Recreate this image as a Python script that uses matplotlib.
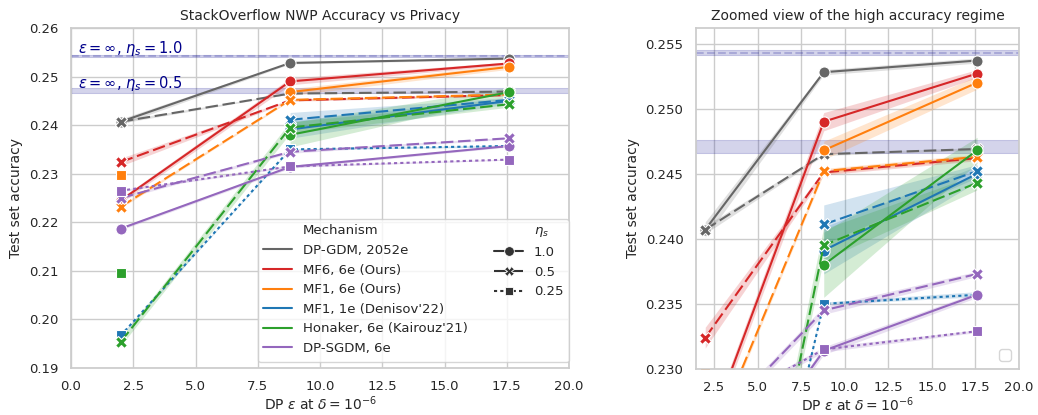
import numpy as np
import matplotlib
matplotlib.use("Agg")
import matplotlib.pyplot as plt
from matplotlib.lines import Line2D
import seaborn as sns

nan = np.nan

# epsilon values (x axis)
eps = [2.0, 8.8, 17.6]
etas = ["1.0", "0.5", "0.25"]

mechanisms = ["DP-GDM, 2052e", "MF6, 6e (Ours)", "MF1, 6e (Ours)",
              "MF1, 1e (Denisov'22)", "Honaker, 6e (Kairouz'21)", "DP-SGDM, 6e"]
colors = ["#666666", "#d62728", "#ff7f0e", "#1f77b4", "#2ca02c", "#9467bd"]

# rows = eta_s 1.0 / 0.5 / 0.25 , columns = eps ; nan = not run
acc_gdm = [[0.2407, 0.2528, 0.2537], [0.2407, 0.2465, 0.2469], [nan, nan, nan]]
acc_mf6 = [[0.2245, 0.2490, 0.2527], [0.2324, 0.2451, 0.2462], [nan, nan, nan]]
acc_mf1 = [[nan, 0.2468, 0.2520], [0.2232, 0.2452, 0.2463], [0.2297, nan, nan]]
acc_den = [[nan, 0.2391, 0.2450], [nan, 0.2411, 0.2452], [0.1967, 0.2350, 0.2357]]
acc_hon = [[nan, 0.2380, 0.2468], [0.1954, 0.2395, 0.2443], [0.2096, nan, nan]]
acc_sgd = [[0.2187, 0.2314, 0.2357], [0.2250, 0.2345, 0.2373], [0.2265, 0.2315, 0.2329]]

# half width of the error band
err_gdm = [[0.0006, 0.0002, 0.0002], [0.0003, 0.0001, 0.0001], [0, 0, 0]]
err_mf6 = [[0.0005, 0.0007, 0.0003], [0.0008, 0.0002, 0.0002], [0, 0, 0]]
err_mf1 = [[0, 0.0007, 0.0005], [0.0003, 0.0002, 0.0002], [0, 0, 0]]
err_den = [[0, 0.0018, 0.0006], [0, 0.0015, 0.0005], [0.0002, 0.0001, 0.0002]]
err_hon = [[0, 0.0025, 0.0010], [0.0008, 0.0012, 0.0006], [0, 0, 0]]
err_sgd = [[0.0003, 0.0003, 0.0002], [0.0003, 0.0003, 0.0002], [0.0002, 0.0002, 0.0001]]

all_acc = [acc_gdm, acc_mf6, acc_mf1, acc_den, acc_hon, acc_sgd]
all_err = [err_gdm, err_mf6, err_mf1, err_den, err_hon, err_sgd]

# non private baselines
inf_acc = [0.2543, 0.2471]
inf_err = [0.0002, 0.0005]
inf_labels = [r"$\varepsilon = \infty$, $\eta_s = 1.0$", r"$\varepsilon = \infty$, $\eta_s = 0.5$"]

markers = ["o", "X", "s"]
dashes = [(None, None), (4, 1.5), (1, 1)]

sns.set_theme(style="whitegrid")
plt.rcParams["font.family"] = ["DejaVu Sans"]

fig = plt.figure(figsize=(10.38, 4.15), dpi=100)
ax1 = fig.add_axes([0.0684, 0.1133, 0.4798, 0.8193])
ax2 = fig.add_axes([0.6705, 0.1110, 0.3112, 0.8216])


def draw(ax, texts):
    # baselines
    for k in range(2):
        ax.axhspan(inf_acc[k] - inf_err[k], inf_acc[k] + inf_err[k],
                   color="darkblue", alpha=0.17, lw=0.8)
        if k == 0:
            ax.axhline(inf_acc[k], color="darkblue", alpha=0.2, lw=1.5, ls="--")
        if texts:
            ax.text(0.3, inf_acc[k] + 0.0005, inf_labels[k], color="darkblue",
                    fontsize=10.5, va="baseline")
    for m in range(len(mechanisms)):
        for s in range(3):
            y = np.array(all_acc[m][s])
            e = np.array(all_err[m][s])
            ok = ~np.isnan(y)
            if ok.sum() == 0:
                continue
            x = np.array(eps)[ok]
            ax.fill_between(x, y[ok] - e[ok], y[ok] + e[ok], color=colors[m],
                            alpha=0.2, lw=0)
            line, = ax.plot(x, y[ok], color=colors[m], lw=1.5, marker=markers[s],
                            ms=8 if s < 2 else 6.5, mec="white", mew=0.8)
            if s > 0:
                line.set_dashes([d * 1.5 for d in dashes[s]])
    ax.set_xlabel(r"DP $\varepsilon$ at $\delta = 10^{-6}$", fontsize=10, labelpad=1)
    ax.set_ylabel("Test set accuracy", fontsize=10)
    ax.tick_params(labelsize=9.5, pad=3)


draw(ax1, True)
ax1.set_xlim(0, 20)
ax1.set_ylim(0.19, 0.26)
ax1.set_xticks(np.arange(0, 20.1, 2.5))
ax1.set_yticks(np.arange(0.19, 0.2601, 0.01))
ax1.set_yticklabels(["%.2f" % v for v in np.arange(0.19, 0.2601, 0.01)])
ax1.set_title("StackOverflow NWP Accuracy vs Privacy", fontsize=10)

draw(ax2, False)
ax2.set_xlim(1.47, 20)
ax2.set_ylim(0.230, 0.2562)
ax2.set_xticks(np.arange(2.5, 20.1, 2.5))
ax2.set_yticks(np.arange(0.230, 0.2551, 0.005))
ax2.set_yticklabels(["%.3f" % v for v in np.arange(0.230, 0.2551, 0.005)])
ax2.set_title("Zoomed view of the high accuracy regime", fontsize=10)
ax2.legend(handles=[], loc="lower right")

# legend, seaborn style with sub titles
blank = Line2D([], [], color="none")
h1 = [blank] + [Line2D([], [], color=c, lw=1.5) for c in colors]
l1 = ["Mechanism"] + mechanisms
h2 = [blank]
for s in range(3):
    ln = Line2D([], [], color=".2", lw=1.5, marker=markers[s], ms=7 if s < 2 else 5.5,
                mec="white", mew=0.6)
    if s > 0:
        ln.set_dashes([d * 1.5 for d in dashes[s]])
    h2.append(ln)
h2 += [blank] * 3
l2 = [r"$\eta_s$"] + etas + [""] * 3
ax1.legend(h1 + h2, l1 + l2, ncol=2, loc="lower right", fontsize=9.5,
           bbox_to_anchor=(0.999, 0.017), borderaxespad=0,
           columnspacing=2.0, handlelength=2.2)

fig.savefig("out.png", dpi=100)
